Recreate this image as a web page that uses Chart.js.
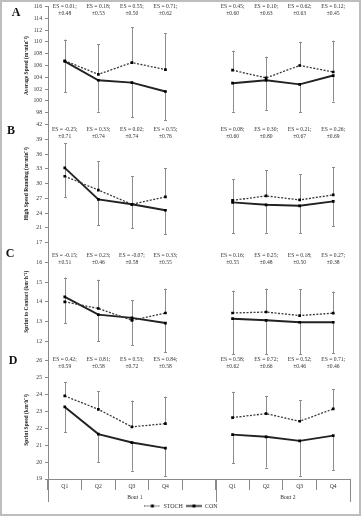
<!DOCTYPE html>
<html><head><meta charset="utf-8">
<script src="https://cdn.jsdelivr.net/npm/chart.js@4/dist/chart.umd.min.js"></script>
<style>html,body{margin:0;padding:0;background:#fff;overflow:hidden}</style>
</head><body>
<canvas id="c" width="361" height="516"></canvas>
<script>
// ---------- DATA ----------
const quarters = ['Q1','Q2','Q3','Q4','','Q1','Q2','Q3','Q4'];
const bouts = ['Bout 1','Bout 2'];
const seriesNames = ['STOCH','CON'];
const panelLetters = ['A','B','C','D'];
const yTitles = ['Average Speed (m\u00b7min\u207b\u00b9)','High Speed Running (m\u00b7min\u207b\u00b9)','Sprint to Contact (km\u00b7h\u207b\u00b9)','Sprint Speed (km\u00b7h\u207b\u00b9)'];

// A: Average speed
const avgStoch   = [106.8,104.5,106.5,105.3,null,105.2,103.9,106.0,104.9];
const avgStochSD = [3.6,5.1,6.0,6.2,null,3.3,3.6,4.0,5.3];
const avgCon     = [106.7,103.5,103.1,101.6,null,103.0,103.5,102.8,104.3];
const avgConSD   = [5.2,5.3,5.9,4.9,null,4.8,5.0,4.75,4.4];
// B: High speed running
const hsrStoch   = [31.5,28.7,25.8,27.3,null,26.6,27.5,26.7,27.7];
const hsrStochSD = [6.7,5.8,5.7,5.9,null,4.3,5.2,5.2,5.7];
const hsrCon     = [33.2,26.8,25.8,24.6,null,26.2,25.7,25.5,26.4];
const hsrConSD   = [5.9,5.2,4.9,4.9,null,6.3,5.7,5.6,5.1];
// C: Sprint to contact
const stcStoch   = [14.0,13.66,13.06,13.43,null,13.43,13.48,13.3,13.42];
const stcStochSD = [1.23,1.46,1.02,1.24,null,1.13,1.19,1.34,1.10];
const stcCon     = [14.25,13.35,13.18,12.92,null,13.14,13.06,12.96,12.96];
const stcConSD   = [1.33,1.35,1.39,1.47,null,1.80,1.72,1.62,1.58];
// D: Sprint speed
const spdStoch   = [23.92,23.13,22.09,22.28,null,22.64,22.87,22.42,23.15];
const spdStochSD = [0.83,1.08,1.55,1.60,null,1.53,1.05,1.24,1.16];
const spdCon     = [23.27,21.66,21.16,20.83,null,21.63,21.5,21.26,21.57];
const spdConSD   = [1.48,1.68,1.67,1.64,null,1.69,1.82,2.07,2.04];

// y-axis ranges (min, max, step)
const yRangeA = [96,116,2];
const yRangeB = [18,42,3];
const yRangeC = [11,17,1];
const yRangeD = [19,26,1];

// Effect sizes
const esA = [['ES = 0.01;','\u00b10.48'],['ES = 0.18;','\u00b10.53'],['ES = 0.55;','\u00b10.50'],['ES = 0.71;','\u00b10.62'],null,['ES = 0.45;','\u00b10.60'],['ES = 0.10;','\u00b10.63'],['ES = 0.62;','\u00b10.63'],['ES = 0.12;','\u00b10.45']];
const esB = [['ES = -0.25;','\u00b10.71'],['ES = 0.33;','\u00b10.74'],['ES = 0.02;','\u00b10.74'],['ES = 0.55;','\u00b10.76'],null,['ES = 0.08;','\u00b10.60'],['ES = 0.30;','\u00b10.80'],['ES = 0.21;','\u00b10.67'],['ES = 0.26;','\u00b10.69']];
const esC = [['ES = -0.15;','\u00b10.51'],['ES = 0.23;','\u00b10.46'],['ES = -0.07;','\u00b10.58'],['ES = 0.33;','\u00b10.55'],null,['ES = 0.16;','\u00b10.55'],['ES = 0.25;','\u00b10.48'],['ES = 0.18;','\u00b10.50'],['ES = 0.27;','\u00b10.38']];
const esD = [['ES = 0.42;','\u00b10.59'],['ES = 0.81;','\u00b10.58'],['ES = 0.53;','\u00b10.72'],['ES = 0.84;','\u00b10.58'],null,['ES = 0.58;','\u00b10.62'],['ES = 0.72;','\u00b10.66'],['ES = 0.52;','\u00b10.46'],['ES = 0.71;','\u00b10.46']];

// ---------- STYLE ----------
const serif = "'Liberation Serif','Times New Roman',serif";
const txt = '#333';
const axisCol = '#8a8a8a';
const stochCol = '#3a3a3a';
const conCol = '#222';
const errCol = '#8c8c8c';
const esOffsets = [0, 5, 13, -1.5];        // ES first-line y offset from panel top
const letterPos = [[16,13],[11,131],[10,254],[13,361]];

const panels = [
  {id:'yA', stoch:avgStoch, stochSD:avgStochSD, con:avgCon, conSD:avgConSD, range:yRangeA, es:esA},
  {id:'yB', stoch:hsrStoch, stochSD:hsrStochSD, con:hsrCon, conSD:hsrConSD, range:yRangeB, es:esB},
  {id:'yC', stoch:stcStoch, stochSD:stcStochSD, con:stcCon, conSD:stcConSD, range:yRangeC, es:esC},
  {id:'yD', stoch:spdStoch, stochSD:spdStochSD, con:spdCon, conSD:spdConSD, range:yRangeD, es:esD}
];

const datasets = [];
panels.forEach(p => {
  datasets.push({label:seriesNames[0], data:p.stoch, yAxisID:p.id, errorBars:p.stochSD, errorDir:1,
    borderColor:stochCol, borderWidth:1.3, borderDash:[2,1.5], pointStyle:'rect', pointRadius:1.9,
    pointBackgroundColor:'#000', pointBorderColor:'#000', pointBorderWidth:0, tension:0, spanGaps:false});
  datasets.push({label:seriesNames[1], data:p.con, yAxisID:p.id, errorBars:p.conSD, errorDir:-1,
    borderColor:conCol, borderWidth:1.9, pointStyle:'rect', pointRadius:1.9,
    pointBackgroundColor:'#000', pointBorderColor:'#000', pointBorderWidth:0, tension:0, spanGaps:false});
});

function yScale(i){
  const [min,max,step] = panels[i].range;
  return {
    type:'linear', position:'left', stack:'panels', stackWeight:1, weight:4-i,
    min, max,
    ticks:{stepSize:step, autoSkip:false, font:{family:serif,size:5.7}, color:txt, padding:3,
      callback:(v)=> (v===min && i<3) ? '' : v},
    grid:{drawOnChartArea:false, tickLength:3, color:axisCol},
    border:{color:axisCol, width:1},
    title:{display:true, text:yTitles[i], font:{family:serif,size:5.5,weight:'bold'}, color:'#222', padding:{top:11,bottom:0}},
    afterFit(s){ s.width = 36; }
  };
}

function legendIcon(dashed){
  const c = document.createElement('canvas'); c.width = 16; c.height = 5;
  const g = c.getContext('2d');
  g.strokeStyle = dashed ? stochCol : conCol; g.lineWidth = dashed ? 1.2 : 1.6;
  if (dashed) g.setLineDash([1.5,1.2]);
  g.beginPath(); g.moveTo(0,2.5); g.lineTo(16,2.5); g.stroke();
  g.fillStyle = '#000'; g.fillRect(6.5,1,3,3);
  return c;
}

const errorBarPlugin = {
  id:'errorBars',
  beforeDatasetsDraw(chart){
    const ctx = chart.ctx, xs = chart.scales.x;
    chart.data.datasets.forEach(ds => {
      const ys = chart.scales[ds.yAxisID];
      ctx.save(); ctx.strokeStyle = errCol; ctx.lineWidth = 1;
      ds.data.forEach((v,j) => {
        const e = ds.errorBars[j];
        if (v==null || e==null) return;
        const px = Math.round(xs.getPixelForValue(j)) + 0.5;
        const p0 = ys.getPixelForValue(v), p1 = ys.getPixelForValue(v + ds.errorDir*e);
        ctx.beginPath(); ctx.moveTo(px,p0); ctx.lineTo(px,p1);
        ctx.moveTo(px-1.5,Math.round(p1)+0.5); ctx.lineTo(px+1.5,Math.round(p1)+0.5); ctx.stroke();
      });
      ctx.restore();
    });
  }
};

const annotPlugin = {
  id:'annot',
  afterDraw(chart){
    const ctx = chart.ctx, xs = chart.scales.x;
    ctx.save();
    // ES labels
    ctx.fillStyle = txt; ctx.textAlign = 'center'; ctx.textBaseline = 'middle';
    ctx.font = '5.6px ' + serif;
    panels.forEach((p,i) => {
      const top = chart.scales[p.id].top + esOffsets[i];
      p.es.forEach((e,j) => {
        if (!e) return;
        const px = xs.getPixelForValue(j);
        ctx.fillText(e[0], px, top);
        ctx.fillText(e[1], px, top + 7);
      });
    });
    // panel letters
    ctx.font = 'bold 12px ' + serif; ctx.fillStyle = '#111';
    panelLetters.forEach((l,i) => ctx.fillText(l, letterPos[i][0], letterPos[i][1]));
    // bout group separators and labels
    const bottom = xs.top;
    const half = (xs.getPixelForValue(1) - xs.getPixelForValue(0)) / 2;
    const sep = [xs.getPixelForValue(0)-half, xs.getPixelForValue(4)+half, xs.getPixelForValue(8)+half];
    ctx.strokeStyle = axisCol; ctx.lineWidth = 1;
    sep.forEach(s => { const sx = Math.round(s)+0.5; ctx.beginPath(); ctx.moveTo(sx,bottom); ctx.lineTo(sx,bottom+23); ctx.stroke(); });
    ctx.font = '5.7px ' + serif; ctx.fillStyle = txt;
    ctx.fillText(bouts[0], (sep[0]+sep[1])/2 + 3, bottom + 18.5);
    ctx.fillText(bouts[1], (sep[1]+sep[2])/2 + 5, bottom + 18.5);
    // outer frame
    ctx.strokeStyle = '#bdbdbd'; ctx.lineWidth = 2;
    ctx.strokeRect(1,1,359,514);
    ctx.restore();
  }
};

new Chart(document.getElementById('c'), {
  type:'line',
  data:{labels:quarters, datasets},
  options:{
    responsive:false, animation:false, events:[],
    layout:{padding:{left:12, right:11, top:6, bottom:-3}},
    scales:{
      x:{type:'category', offset:true,
        grid:{offset:true, drawOnChartArea:false, tickLength:11, color:axisCol},
        border:{color:axisCol, width:1},
        ticks:{font:{family:serif,size:5.7}, color:txt, autoSkip:false, maxRotation:0, padding:-7},
        afterFit(s){ s.height = 21; }
      },
      yA:yScale(0), yB:yScale(1), yC:yScale(2), yD:yScale(3)
    },
    plugins:{
      tooltip:{enabled:false},
      legend:{position:'bottom', align:'center',
        labels:{usePointStyle:true, pointStyleWidth:16, boxHeight:5, padding:3, color:txt,
          font:{family:serif,size:6},
          generateLabels:() => [
            {text:seriesNames[0], pointStyle:legendIcon(true), fillStyle:'#000', strokeStyle:'#000', lineWidth:0, datasetIndex:0, fontColor:txt},
            {text:seriesNames[1], pointStyle:legendIcon(false), fillStyle:'#000', strokeStyle:'#000', lineWidth:0, datasetIndex:1, fontColor:txt}
          ]}
      }
    }
  },
  plugins:[errorBarPlugin, annotPlugin]
});
</script>
</body></html>
